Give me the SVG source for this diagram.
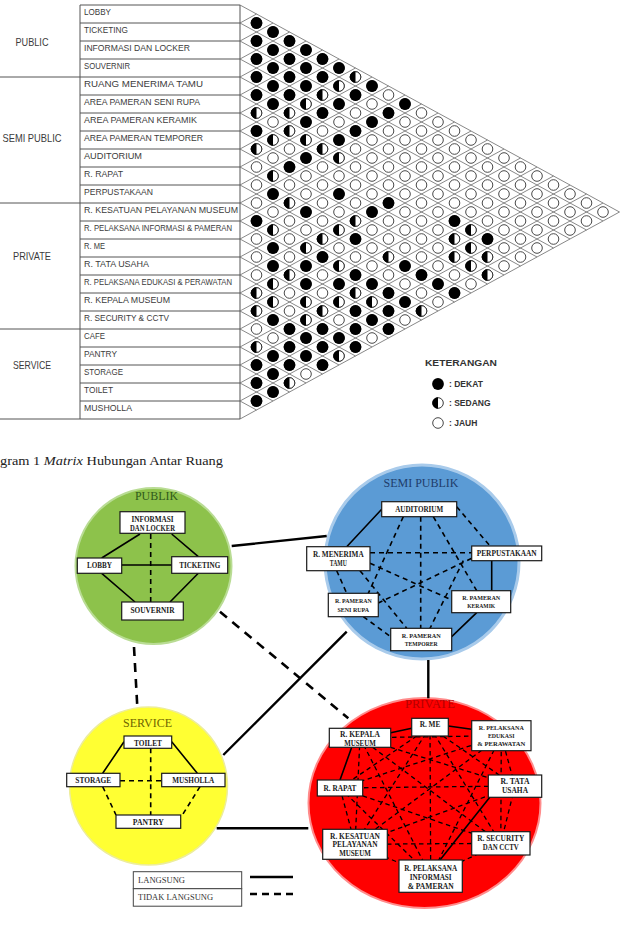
<svg xmlns="http://www.w3.org/2000/svg" width="627" height="944" viewBox="0 0 627 944">
<style>
.tb{stroke:#555;stroke-width:1;fill:none}
.gr{stroke:#6a6a6a;stroke-width:0.8;fill:none}
.rl{font-family:"Liberation Sans",Arial,sans-serif;font-size:8.5px;fill:#3b3b3b}
.gl{font-family:"Liberation Sans",Arial,sans-serif;font-size:10.5px;fill:#3b3b3b;text-anchor:middle}
.kt{font-family:"Liberation Sans",Arial,sans-serif;font-size:9px;fill:#333;font-weight:bold}
.kl{font-family:"Liberation Sans",Arial,sans-serif;font-size:8.5px;fill:#333;font-weight:bold}
.cap{font-family:"Liberation Serif","Times New Roman",serif;font-size:13.5px;fill:#222}
.ttl{font-family:"Liberation Serif","Times New Roman",serif;font-size:12.5px;text-anchor:middle}
.bx{fill:#fff;stroke:#1a1a1a;stroke-width:1.2}
.bt{font-family:"Liberation Serif","Times New Roman",serif;font-weight:bold;font-size:7.5px;fill:#1a1a1a;text-anchor:middle}
.sm{font-size:6.5px}
.s{stroke:#000;stroke-width:1.6;fill:none}
.d{stroke:#000;stroke-width:1.6;stroke-dasharray:5 4;fill:none}
.S{stroke:#000;stroke-width:2.4;fill:none}
.D{stroke:#000;stroke-width:2.6;stroke-dasharray:9 7;fill:none}
.dp{stroke:#000;stroke-width:1.3;stroke-dasharray:4.5 3.5;fill:none}
.lg{font-family:"Liberation Serif","Times New Roman",serif;font-size:7.5px;fill:#333}
</style>
<defs>
<pattern id="po" patternUnits="userSpaceOnUse" x="240" y="14" width="33" height="18">
<g fill="#fff" stroke="#333" stroke-width="0.9">
<circle cx="16.5" cy="9" r="5.3"/><circle cx="0" cy="0" r="5.3"/><circle cx="33" cy="0" r="5.3"/><circle cx="0" cy="18" r="5.3"/><circle cx="33" cy="18" r="5.3"/>
</g>
</pattern>
<circle id="B" r="5.9" fill="#000"/>
<g id="H"><circle r="5.3" fill="#fff" stroke="#222" stroke-width="0.9"/><path d="M0,-5.75A5.75,5.75 0 0 0 0,5.75Z" fill="#000"/></g>
</defs>
<rect width="627" height="944" fill="#fff"/>

<!-- MATRIX TABLE -->
<g id="matrix-table">
<path class="tb" d="M80,5H240M80,23H240M80,41H240M80,59H240M0,77H240M80,95H240M80,113H240M80,131H240M80,149H240M80,167H240M80,185H240M0,203H240M80,221H240M80,239H240M80,257H240M80,275H240M80,293H240M80,311H240M0,329H240M80,347H240M80,365H240M80,383H240M80,401H240M0,419H240M80,5V419M240,5V419"/>
<text class="gl" x="32" y="45.5" textLength="33" lengthAdjust="spacingAndGlyphs">PUBLIC</text>
<text class="gl" x="32" y="141.5" textLength="59" lengthAdjust="spacingAndGlyphs">SEMI PUBLIC</text>
<text class="gl" x="32" y="259.5" textLength="38" lengthAdjust="spacingAndGlyphs">PRIVATE</text>
<text class="gl" x="32" y="368.5" textLength="38" lengthAdjust="spacingAndGlyphs">SERVICE</text>
<g class="rl">
<text x="84" y="15.3" textLength="27" lengthAdjust="spacingAndGlyphs">LOBBY</text>
<text x="84" y="33.3" textLength="44" lengthAdjust="spacingAndGlyphs">TICKETING</text>
<text x="84" y="51.3" textLength="106" lengthAdjust="spacingAndGlyphs">INFORMASI DAN LOCKER</text>
<text x="84" y="69.3" textLength="46" lengthAdjust="spacingAndGlyphs">SOUVERNIR</text>
<text x="84" y="87.3" textLength="119" lengthAdjust="spacingAndGlyphs">RUANG MENERIMA TAMU</text>
<text x="84" y="105.3" textLength="116" lengthAdjust="spacingAndGlyphs">AREA PAMERAN SENI RUPA</text>
<text x="84" y="123.3" textLength="113" lengthAdjust="spacingAndGlyphs">AREA PAMERAN KERAMIK</text>
<text x="84" y="141.3" textLength="119" lengthAdjust="spacingAndGlyphs">AREA PAMERAN TEMPORER</text>
<text x="84" y="159.3" textLength="58" lengthAdjust="spacingAndGlyphs">AUDITORIUM</text>
<text x="84" y="177.3" textLength="39" lengthAdjust="spacingAndGlyphs">R. RAPAT</text>
<text x="84" y="195.3" textLength="69" lengthAdjust="spacingAndGlyphs">PERPUSTAKAAN</text>
<text x="84" y="213.3" textLength="154" lengthAdjust="spacingAndGlyphs">R. KESATUAN PELAYANAN MUSEUM</text>
<text x="84" y="231.3" textLength="148" lengthAdjust="spacingAndGlyphs">R. PELAKSANA INFORMASI &amp; PAMERAN</text>
<text x="84" y="249.3" textLength="21" lengthAdjust="spacingAndGlyphs">R. ME</text>
<text x="84" y="267.3" textLength="65" lengthAdjust="spacingAndGlyphs">R. TATA USAHA</text>
<text x="84" y="285.3" textLength="148" lengthAdjust="spacingAndGlyphs">R. PELAKSANA EDUKASI &amp; PERAWATAN</text>
<text x="84" y="303.3" textLength="86" lengthAdjust="spacingAndGlyphs">R. KEPALA MUSEUM</text>
<text x="84" y="321.3" textLength="85" lengthAdjust="spacingAndGlyphs">R. SECURITY &amp; CCTV</text>
<text x="84" y="339.3" textLength="21" lengthAdjust="spacingAndGlyphs">CAFE</text>
<text x="84" y="357.3" textLength="33" lengthAdjust="spacingAndGlyphs">PANTRY</text>
<text x="84" y="375.3" textLength="39" lengthAdjust="spacingAndGlyphs">STORAGE</text>
<text x="84" y="393.3" textLength="29" lengthAdjust="spacingAndGlyphs">TOILET</text>
<text x="84" y="411.3" textLength="48" lengthAdjust="spacingAndGlyphs">MUSHOLLA</text>
</g>
</g>

<!-- MATRIX GRID -->
<g id="matrix-grid">
<path class="gr" d="M240,5L619.5,212M240,23L603,221M240,41L586.5,230M240,59L570,239M240,77L553.5,248M240,95L537,257M240,113L520.5,266M240,131L504,275M240,149L487.5,284M240,167L471,293M240,185L454.5,302M240,203L438,311M240,221L421.5,320M240,239L405,329M240,257L388.5,338M240,275L372,347M240,293L355.5,356M240,311L339,365M240,329L322.5,374M240,347L306,383M240,365L289.5,392M240,383L273,401M240,401L256.5,410M240,23L256.5,14M240,41L273,23M240,59L289.5,32M240,77L306,41M240,95L322.5,50M240,113L339,59M240,131L355.5,68M240,149L372,77M240,167L388.5,86M240,185L405,95M240,203L421.5,104M240,221L438,113M240,239L454.5,122M240,257L471,131M240,275L487.5,140M240,293L504,149M240,311L520.5,158M240,329L537,167M240,347L553.5,176M240,365L570,185M240,383L586.5,194M240,401L603,203M240,419L619.5,212"/>
<polygon points="248,9.36 619.5,212 248,414.64" fill="url(#po)"/>
<g>
<use href="#B" x="256.5" y="23"/>
<use href="#B" x="273" y="32"/>
<use href="#B" x="256.5" y="41"/><use href="#B" x="289.5" y="41"/>
<use href="#B" x="273" y="50"/><use href="#B" x="306" y="50"/>
<use href="#B" x="256.5" y="59"/><use href="#B" x="289.5" y="59"/><use href="#B" x="322.5" y="59"/>
<use href="#B" x="273" y="68"/><use href="#B" x="306" y="68"/><use href="#B" x="339" y="68"/>
<use href="#B" x="256.5" y="77"/><use href="#B" x="289.5" y="77"/><use href="#B" x="322.5" y="77"/><use href="#H" x="355.5" y="77"/>
<use href="#B" x="273" y="86"/><use href="#B" x="306" y="86"/><use href="#H" x="339" y="86"/><use href="#B" x="372" y="86"/>
<use href="#B" x="256.5" y="95"/><use href="#B" x="289.5" y="95"/><use href="#H" x="322.5" y="95"/><use href="#B" x="355.5" y="95"/>
<use href="#B" x="273" y="104"/><use href="#H" x="306" y="104"/><use href="#B" x="339" y="104"/><use href="#B" x="405" y="104"/>
<use href="#H" x="256.5" y="113"/><use href="#H" x="289.5" y="113"/><use href="#B" x="322.5" y="113"/><use href="#B" x="388.5" y="113"/>
<use href="#B" x="306" y="122"/><use href="#B" x="372" y="122"/>
<use href="#B" x="256.5" y="131"/><use href="#H" x="289.5" y="131"/><use href="#B" x="355.5" y="131"/>
<use href="#H" x="273" y="140"/><use href="#H" x="306" y="140"/><use href="#B" x="339" y="140"/>
<use href="#H" x="256.5" y="149"/><use href="#H" x="322.5" y="149"/>
<use href="#B" x="306" y="158"/><use href="#H" x="339" y="158"/>
<use href="#B" x="289.5" y="167"/>
<use href="#H" x="273" y="176"/>
<use href="#B" x="273" y="194"/><use href="#B" x="339" y="194"/>
<use href="#H" x="289.5" y="203"/><use href="#B" x="388.5" y="203"/>
<use href="#B" x="306" y="212"/><use href="#B" x="372" y="212"/>
<use href="#B" x="256.5" y="221"/><use href="#H" x="355.5" y="221"/><use href="#B" x="454.5" y="221"/>
<use href="#H" x="273" y="230"/><use href="#H" x="339" y="230"/><use href="#H" x="471" y="230"/>
<use href="#H" x="322.5" y="239"/><use href="#B" x="355.5" y="239"/><use href="#H" x="454.5" y="239"/><use href="#B" x="487.5" y="239"/>
<use href="#B" x="273" y="248"/><use href="#H" x="306" y="248"/><use href="#H" x="471" y="248"/>
<use href="#B" x="322.5" y="257"/><use href="#H" x="388.5" y="257"/><use href="#H" x="454.5" y="257"/><use href="#H" x="487.5" y="257"/>
<use href="#B" x="273" y="266"/><use href="#B" x="306" y="266"/><use href="#H" x="339" y="266"/><use href="#B" x="405" y="266"/><use href="#H" x="471" y="266"/>
<use href="#H" x="289.5" y="275"/><use href="#B" x="355.5" y="275"/><use href="#B" x="421.5" y="275"/><use href="#H" x="487.5" y="275"/>
<use href="#H" x="273" y="284"/><use href="#B" x="306" y="284"/><use href="#B" x="339" y="284"/><use href="#B" x="372" y="284"/><use href="#B" x="438" y="284"/>
<use href="#H" x="256.5" y="293"/><use href="#H" x="355.5" y="293"/><use href="#B" x="388.5" y="293"/><use href="#B" x="454.5" y="293"/>
<use href="#H" x="273" y="302"/><use href="#H" x="306" y="302"/><use href="#H" x="339" y="302"/><use href="#H" x="372" y="302"/><use href="#B" x="405" y="302"/>
<use href="#H" x="256.5" y="311"/><use href="#H" x="322.5" y="311"/><use href="#B" x="355.5" y="311"/><use href="#B" x="388.5" y="311"/><use href="#H" x="421.5" y="311"/>
<use href="#B" x="273" y="320"/><use href="#H" x="306" y="320"/><use href="#B" x="372" y="320"/>
<use href="#B" x="289.5" y="329"/><use href="#B" x="322.5" y="329"/><use href="#B" x="355.5" y="329"/><use href="#B" x="388.5" y="329"/>
<use href="#B" x="306" y="338"/><use href="#B" x="339" y="338"/>
<use href="#H" x="256.5" y="347"/><use href="#B" x="289.5" y="347"/><use href="#B" x="322.5" y="347"/><use href="#B" x="355.5" y="347"/>
<use href="#B" x="273" y="356"/><use href="#B" x="306" y="356"/><use href="#H" x="339" y="356"/>
<use href="#B" x="256.5" y="365"/><use href="#B" x="289.5" y="365"/><use href="#B" x="322.5" y="365"/>
<use href="#B" x="273" y="374"/>
<use href="#B" x="256.5" y="383"/><use href="#H" x="289.5" y="383"/>
<use href="#B" x="273" y="392"/>
<use href="#B" x="256.5" y="401"/>
</g>
</g>

<!-- KETERANGAN -->
<g id="keterangan">
<text class="kt" x="425" y="366" textLength="72" lengthAdjust="spacingAndGlyphs">KETERANGAN</text>
<use href="#B" x="438" y="384"/>
<use href="#H" x="438" y="403"/>
<circle cx="438" cy="423" r="5.3" fill="#fff" stroke="#333" stroke-width="0.9"/>
<text class="kl" x="449" y="387">: DEKAT</text>
<text class="kl" x="449" y="406">: SEDANG</text>
<text class="kl" x="449" y="426">: JAUH</text>
</g>

<text class="cap" x="0" y="465" textLength="223" lengthAdjust="spacingAndGlyphs">gram 1 <tspan font-style="italic">Matrix</tspan> Hubungan Antar Ruang</text>

<!-- ZONES -->
<g id="zones">
<g id="zone-publik"><circle cx="153.5" cy="566" r="78" fill="#8dc24b" stroke="#b9dc94" stroke-width="2"/><text class="ttl" x="156.5" y="500" fill="#2f5a1a" textLength="43" lengthAdjust="spacingAndGlyphs">PUBLIK</text></g>
<g id="zone-semipublik"><circle cx="422" cy="562" r="97" fill="#5b9bd5" stroke="#a9cbeb" stroke-width="3"/><text class="ttl" x="421" y="487" fill="#1f3d6b" textLength="75" lengthAdjust="spacingAndGlyphs">SEMI PUBLIK</text></g>
<g id="zone-service"><circle cx="148.5" cy="786" r="79" fill="#ffff33" stroke="#eded9a" stroke-width="1.5"/><text class="ttl" x="147.5" y="727" fill="#6e6400" textLength="49" lengthAdjust="spacingAndGlyphs">SERVICE</text></g>
<g id="zone-private"><ellipse cx="424.5" cy="803" rx="116" ry="105" fill="#ff0000" stroke="#ff8c8c" stroke-width="2"/><text class="ttl" x="430" y="708" fill="#b30000" textLength="50" lengthAdjust="spacingAndGlyphs">PRIVATE</text></g>
</g>

<!-- CONNECTORS -->
<g id="connectors">
<path class="S" d="M231.7,546L326.7,536M223.3,755L346.7,631.7M216.7,828.3L308.3,828.3M428.3,660L428.3,698.3"/>
<path class="D" d="M220,611.7L348.3,718.3M134,647L137.3,706.7"/>
<path class="s" d="M140,534L101.7,558M171.7,534L198.3,556.7M121.7,565L171.7,565M101.7,573.3L135,602M198.3,573.3L170,602"/>
<path class="d" d="M150.7,534L150.7,602"/>
<path class="s" d="M124,741.7L102.7,773.3M171.7,741.7L197.3,773.3"/>
<path class="d" d="M150.7,748.3L150.7,815M120,780.7L161.7,780.7M102.7,786.7L116,815M200,786.7L181.7,816"/>
<path class="s" d="M381.7,509.3L346.7,546.7M491.7,560.7L491.7,590.7M476.7,612.7L451.7,636.7"/>
<path class="d" d="M456.7,506.7L490,546M420.7,516.7L420.7,628.3M403.3,516.7L368.3,593.3M433.3,516.7L476.7,590.7M370,552.7L471.7,552.7M370,563.3L451.7,600M336.7,570.7L346.7,593.3M360,570.7L406.7,628.3M471.7,558.3L378.3,603M463.3,560.7L430,628.3M363.3,616.7L390.7,636.7"/>
<path class="s" d="M411.7,728.3L390.7,732.7M448.3,726L471.7,729.3M351.7,747.3L340,780M490,797L440,860"/>
<path class="dp" d="M430,727L340,788M430,727L515,786M430,727L355,844.3M430,727L500.8,843.3M430,727L430.7,876M360,737.8L501.3,735.7M360,737.8L515,786M360,737.8L355,844.3M360,737.8L500.8,843.3M360,737.8L430.7,876M501.3,735.7L340,788M501.3,735.7L515,786M501.3,735.7L355,844.3M501.3,735.7L500.8,843.3M501.3,735.7L430.7,876M340,788L515,786M340,788L355,844.3M340,788L500.8,843.3M340,788L430.7,876M515,786L355,844.3M515,786L500.8,843.3M355,844.3L500.8,843.3M355,844.3L430.7,876M500.8,843.3L430.7,876"/>
</g>

<!-- NODES -->
<g id="n-informasi"><rect class="bx" x="120" y="511.7" width="65" height="21.6"/><text class="bt" x="152.5" y="521.7" textLength="42" lengthAdjust="spacingAndGlyphs">INFORMASI</text><text class="bt" x="152.5" y="530.7" textLength="45" lengthAdjust="spacingAndGlyphs">DAN LOCKER</text></g>
<g id="n-lobby"><rect class="bx" x="77.3" y="558" width="44.4" height="15.3"/><text class="bt" x="99.5" y="567.7" textLength="25" lengthAdjust="spacingAndGlyphs">LOBBY</text></g>
<g id="n-ticketing"><rect class="bx" x="171.7" y="556.7" width="56" height="16.6"/><text class="bt" x="199.7" y="567.5" textLength="41" lengthAdjust="spacingAndGlyphs">TICKETING</text></g>
<g id="n-souvernir"><rect class="bx" x="121.7" y="602" width="61.6" height="18"/><text class="bt" x="152.5" y="612.5" textLength="44" lengthAdjust="spacingAndGlyphs">SOUVERNIR</text></g>

<g id="n-toilet"><rect class="bx" x="124" y="736" width="47.7" height="12.3"/><text class="bt" x="148" y="745.5" textLength="28" lengthAdjust="spacingAndGlyphs">TOILET</text></g>
<g id="n-storage"><rect class="bx" x="66.7" y="773.3" width="53.3" height="13.4"/><text class="bt" x="93.3" y="783" textLength="36" lengthAdjust="spacingAndGlyphs">STORAGE</text></g>
<g id="n-musholla"><rect class="bx" x="161.7" y="773.3" width="63.3" height="13.4"/><text class="bt" x="193.3" y="783" textLength="42" lengthAdjust="spacingAndGlyphs">MUSHOLLA</text></g>
<g id="n-pantry"><rect class="bx" x="116" y="815" width="64.7" height="13.3"/><text class="bt" x="148.3" y="824.8" textLength="31" lengthAdjust="spacingAndGlyphs">PANTRY</text></g>

<g id="n-auditorium"><rect class="bx" x="381.7" y="501.7" width="75" height="15"/><text class="bt" x="419.2" y="511.5" textLength="48" lengthAdjust="spacingAndGlyphs">AUDITORIUM</text></g>
<g id="n-menerima"><rect class="bx" x="306.7" y="546.7" width="63.3" height="24"/><text class="bt" x="338.3" y="556.5" textLength="50.7" lengthAdjust="spacingAndGlyphs">R. MENERIMA</text><text class="bt" x="338.3" y="565.5" textLength="17" lengthAdjust="spacingAndGlyphs">TAMU</text></g>
<g id="n-perpustakaan"><rect class="bx" x="471.7" y="546" width="70" height="14.7"/><text class="bt" x="506.7" y="556" textLength="60" lengthAdjust="spacingAndGlyphs">PERPUSTAKAAN</text></g>
<g id="n-senirupa"><rect class="bx" x="328.3" y="593.3" width="50" height="23.4"/><text class="bt sm" x="353.3" y="603" textLength="36.7" lengthAdjust="spacingAndGlyphs">R. PAMERAN</text><text class="bt sm" x="353.3" y="611.5" textLength="31.7" lengthAdjust="spacingAndGlyphs">SENI RUPA</text></g>
<g id="n-keramik"><rect class="bx" x="451.7" y="590.7" width="59" height="22"/><text class="bt sm" x="481.2" y="599.5" textLength="38" lengthAdjust="spacingAndGlyphs">R. PAMERAN</text><text class="bt sm" x="481.2" y="608" textLength="28" lengthAdjust="spacingAndGlyphs">KERAMIK</text></g>
<g id="n-temporer"><rect class="bx" x="390.7" y="628.3" width="61" height="22.4"/><text class="bt sm" x="421.2" y="637.5" textLength="39" lengthAdjust="spacingAndGlyphs">R. PAMERAN</text><text class="bt sm" x="421.2" y="645.8" textLength="33" lengthAdjust="spacingAndGlyphs">TEMPORER</text></g>

<g id="n-me"><rect class="bx" x="411.7" y="718.3" width="36.6" height="17.7"/><text class="bt" x="430" y="726.5" textLength="20.7" lengthAdjust="spacingAndGlyphs">R. ME</text></g>
<g id="n-kepala"><rect class="bx" x="329.3" y="728.3" width="61.4" height="19"/><text class="bt" x="360" y="737.3" textLength="40" lengthAdjust="spacingAndGlyphs">R. KEPALA</text><text class="bt" x="360" y="746" textLength="31.7" lengthAdjust="spacingAndGlyphs">MUSEUM</text></g>
<g id="n-edukasi"><rect class="bx" x="471.7" y="720.7" width="59.3" height="30"/><text class="bt sm" x="501.3" y="729.5" textLength="45" lengthAdjust="spacingAndGlyphs">R. PELAKSANA</text><text class="bt sm" x="501.3" y="737.8" textLength="26.7" lengthAdjust="spacingAndGlyphs">EDUKASI</text><text class="bt sm" x="501.3" y="745.8" textLength="48" lengthAdjust="spacingAndGlyphs">&amp; PERAWATAN</text></g>
<g id="n-rapat"><rect class="bx" x="317.3" y="780" width="45.4" height="16"/><text class="bt" x="340" y="790.5" textLength="33" lengthAdjust="spacingAndGlyphs">R. RAPAT</text></g>
<g id="n-tata"><rect class="bx" x="488.3" y="775" width="53.4" height="22.3"/><text class="bt" x="515" y="783.8" textLength="29" lengthAdjust="spacingAndGlyphs">R. TATA</text><text class="bt" x="515" y="792.6" textLength="26" lengthAdjust="spacingAndGlyphs">USAHA</text></g>
<g id="n-kesatuan"><rect class="bx" x="322.7" y="829.3" width="64.6" height="30"/><text class="bt" x="355" y="838.7" textLength="50" lengthAdjust="spacingAndGlyphs">R. KESATUAN</text><text class="bt" x="355" y="847.3" textLength="45" lengthAdjust="spacingAndGlyphs">PELAYANAN</text><text class="bt" x="355" y="856" textLength="31.7" lengthAdjust="spacingAndGlyphs">MUSEUM</text></g>
<g id="n-security"><rect class="bx" x="471.7" y="831.7" width="58.3" height="23.3"/><text class="bt" x="500.8" y="841.2" textLength="47" lengthAdjust="spacingAndGlyphs">R. SECURITY</text><text class="bt" x="500.8" y="850.2" textLength="36" lengthAdjust="spacingAndGlyphs">DAN CCTV</text></g>
<g id="n-pinfo"><rect class="bx" x="399" y="860" width="63.3" height="32.3"/><text class="bt" x="430.7" y="870.5" textLength="53" lengthAdjust="spacingAndGlyphs">R. PELAKSANA</text><text class="bt" x="430.7" y="879.5" textLength="42" lengthAdjust="spacingAndGlyphs">INFORMASI</text><text class="bt" x="430.7" y="888.5" textLength="46" lengthAdjust="spacingAndGlyphs">&amp; PAMERAN</text></g>

<!-- LEGEND -->
<g id="legend">
<rect x="133.3" y="871.7" width="108.4" height="17" fill="#fff" stroke="#444" stroke-width="1"/>
<rect x="133.3" y="888.7" width="108.4" height="17.5" fill="#fff" stroke="#444" stroke-width="1"/>
<text class="lg" x="138" y="883" textLength="47" lengthAdjust="spacingAndGlyphs">LANGSUNG</text>
<text class="lg" x="138" y="900" textLength="75" lengthAdjust="spacingAndGlyphs">TIDAK LANGSUNG</text>
<path class="S" d="M250,877H293"/>
<path class="D" d="M250,894H293" style="stroke-dasharray:7 5"/>
</g>
</svg>
